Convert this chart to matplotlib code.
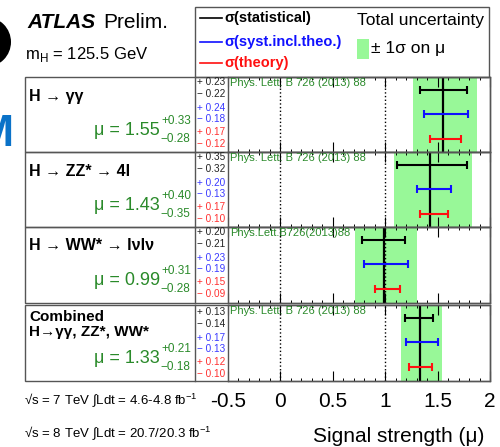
import matplotlib
matplotlib.use("Agg")
import matplotlib.pyplot as plt
from matplotlib.patches import Rectangle, Ellipse
from matplotlib.ticker import MultipleLocator, FixedLocator, FixedFormatter

plt.rcParams['font.family'] = ['Liberation Sans', 'DejaVu Sans']
plt.rcParams['mathtext.fontset'] = 'custom'
plt.rcParams['mathtext.rm'] = 'Liberation Sans'

# ---- data ----
channels = ["H \u2192 \u03b3\u03b3", "H \u2192 ZZ* \u2192 4l", "H \u2192 WW* \u2192 l\u03bdl\u03bd",
            "Combined\nH\u2192\u03b3\u03b3, ZZ*, WW*"]
mu = [1.55, 1.43, 0.99, 1.33]
tot_up = [0.33, 0.40, 0.31, 0.21]
tot_dn = [0.28, 0.35, 0.28, 0.18]
stat_up = [0.23, 0.35, 0.20, 0.13]
stat_dn = [0.22, 0.32, 0.21, 0.14]
syst_up = [0.24, 0.20, 0.23, 0.17]
syst_dn = [0.18, 0.13, 0.19, 0.13]
theo_up = [0.17, 0.17, 0.15, 0.12]
theo_dn = [0.12, 0.10, 0.09, 0.10]
refs = ["Phys. Lett. B 726 (2013) 88", "Phys. Lett. B 726 (2013) 88",
        "Phys.Lett.B726(2013)88", "Phys. Lett. B 726 (2013) 88"]
tick_vals = [-0.5, 0, 0.5, 1, 1.5, 2]
tick_labels = ["-0.5", "0", "0.5", "1", "1.5", "2"]

# ---- styles ----
W, H = 500, 447
GREEN_TXT = '#2a8a2a'
BAND = '#98f898'
BLUE = '#1010ff'
RED = '#ff1010'
FRAME = '#555555'
row_top = [77, 152, 227, 305]
row_bot = [152, 227, 303, 381]
X_LEFT, X_NUM, X_AX, X_RIGHT = 25, 195, 228, 490

fig = plt.figure(figsize=(W / 100, H / 100), dpi=100)

axes = []
for i in range(4):
    t, b = row_top[i], row_bot[i]
    ax = fig.add_axes([X_AX / W, 1 - b / H, (X_RIGHT - X_AX) / W, (b - t) / H])
    ax.set_xlim(-0.5, 2.0)
    ax.set_ylim(0, 1)
    ax.axvspan(mu[i] - tot_dn[i], mu[i] + tot_up[i], color=BAND, lw=0, zorder=1)
    ax.axvline(0, color='k', ls=':', lw=1.0, zorder=2)
    ax.axvline(1, color='k', ls=':', lw=1.0, zorder=2)
    ax.axvline(mu[i], color='k', lw=1.6, zorder=4)
    for yv, lo, hi, col in [(0.83, stat_dn[i], stat_up[i], 'k'),
                            (0.51, syst_dn[i], syst_up[i], BLUE),
                            (0.18, theo_dn[i], theo_up[i], RED)]:
        ax.errorbar([mu[i]], [yv], xerr=[[lo], [hi]], fmt='none', ecolor=col,
                    elinewidth=1.5, capsize=2.6, capthick=1.5, zorder=5)
    ax.set_yticks([])
    ax.xaxis.set_major_locator(FixedLocator(tick_vals))
    ax.xaxis.set_minor_locator(MultipleLocator(0.1))
    ax.tick_params(axis='x', which='major', direction='in', length=7, width=0.8,
                   top=True, bottom=True, labelsize=15, pad=8)
    ax.tick_params(axis='x', which='minor', direction='in', length=2.5, width=0.7,
                   top=True, bottom=True)
    if i == 3:
        ax.xaxis.set_major_formatter(FixedFormatter(tick_labels))
    else:
        ax.tick_params(axis='x', labelbottom=False)
    for sp in ax.spines.values():
        sp.set_color(FRAME)
        sp.set_linewidth(1.0)
    axes.append(ax)

# overlay in pixel coordinates for the frames and annotations
ov = fig.add_axes([0, 0, 1, 1], zorder=10)
ov.set_xlim(0, W)
ov.set_ylim(H, 0)
ov.axis('off')
ov.patch.set_alpha(0)

for i in range(4):
    t, b = row_top[i], row_bot[i]
    ov.add_patch(Rectangle((X_LEFT, t), X_RIGHT - X_LEFT, b - t, fill=False,
                           ec=FRAME, lw=1.0))
    ov.plot([X_NUM, X_NUM], [t, b], color=FRAME, lw=1.0)
    # channel label
    if i < 3:
        ov.text(29, t + 19, channels[i], fontsize=11.5, fontweight='bold',
                ha='left', va='center')
    else:
        l1, l2 = channels[i].split("\n")
        ov.text(29, t + 12, l1, fontsize=11, fontweight='bold', ha='left', va='center')
        ov.text(29, t + 27, l2, fontsize=11, fontweight='bold', ha='left', va='center')
    # mu value with asymmetric errors
    ov.text(160, t + 58, f"\u03bc = {mu[i]:.2f}", fontsize=13, color=GREEN_TXT,
            ha='right', va='baseline')
    ov.text(161, t + 44, f"+{tot_up[i]:.2f}", fontsize=8.5, color=GREEN_TXT,
            ha='left', va='center')
    ov.text(190, t + 62, f"\u2212{tot_dn[i]:.2f}", fontsize=8.5, color=GREEN_TXT,
            ha='right', va='center')
    # uncertainty breakdown column
    off = 2 if i == 3 else 0
    entries = [(f"+ {stat_up[i]:.2f}", '#222222'), (f"\u2212 {stat_dn[i]:.2f}", '#222222'),
               (f"+ {syst_up[i]:.2f}", '#3a3aff'), (f"\u2212 {syst_dn[i]:.2f}", '#3a3aff'),
               (f"+ {theo_up[i]:.2f}", '#ff3030'), (f"\u2212 {theo_dn[i]:.2f}", '#ff3030')]
    for (txt, col), dy in zip(entries, [5, 17, 31, 42, 55, 67]):
        ov.text(197, t + dy + off, txt, fontsize=7.2, color=col, ha='left', va='center')
    ov.text(230, t + 6, refs[i], fontsize=8, color=GREEN_TXT, ha='left', va='center')

# header
ov.text(27, 22, "ATLAS", fontsize=15, fontweight='bold', style='italic',
        ha='left', va='center')
ov.text(103, 22, "Prelim.", fontsize=15, ha='left', va='center')
ov.text(25, 54, r"m$_\mathregular{H}$ = 125.5 GeV", fontsize=12, ha='left', va='center')

# legend box
ov.add_patch(Rectangle((X_NUM, 7), X_RIGHT - 1 - X_NUM, 70, fill=False, ec=FRAME, lw=1.0))
for yv, col, lab in [(18, 'k', "\u03c3(statistical)"),
                     (42, BLUE, "\u03c3(syst.incl.theo.)"),
                     (63, RED, "\u03c3(theory)")]:
    ov.plot([200, 222], [yv, yv], color=col, lw=1.2)
    ov.text(224, yv, lab, color=col, fontsize=10.5, fontweight='bold',
            ha='left', va='center')
ov.text(357, 20, "Total uncertainty", fontsize=12.5, ha='left', va='center')
ov.add_patch(Rectangle((357, 39), 12, 20, color=BAND, lw=0))
ov.text(371, 49, "\u00b1 1\u03c3 on \u03bc", fontsize=12.5, ha='left', va='center')

# bottom annotations
ov.text(24, 400, "\u221as = 7 TeV \u222bLdt = 4.6-4.8 fb$^{-1}$", fontsize=9.5,
        ha='left', va='center')
ov.text(24, 433, "\u221as = 8 TeV \u222bLdt = 20.7/20.3 fb$^{-1}$", fontsize=9.5,
        ha='left', va='center')
ov.text(484, 437, "Signal strength (\u03bc)", fontsize=15, ha='right', va='center')

# slide elements at the left edge
ov.add_patch(Ellipse((-14, 42), 50, 50, color='k', lw=0))
ov.text(14, 146, "M", fontsize=32, fontweight='bold', color='#0a72c8',
        ha='right', va='baseline')

fig.savefig("out.png", dpi=100)
